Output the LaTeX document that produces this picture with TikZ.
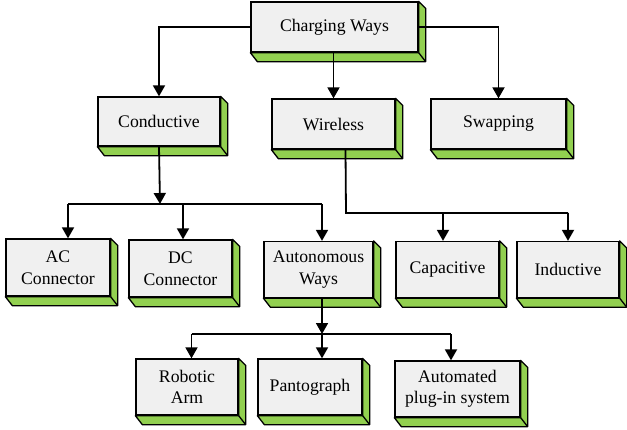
\documentclass[tikz,border=0pt]{standalone}
\usepackage{fontspec}
\setmainfont{Liberation Serif}
\newfontfamily\tnr{Liberation Serif}
\usetikzlibrary{arrows.meta,calc}
\definecolor{face}{HTML}{F0F0F0}
\definecolor{sidegreen}{HTML}{92D050}
\begin{document}
\begin{tikzpicture}[x=1pt,y=-1pt,
  box/.style={draw=black, line width=1.3pt, fill=face, align=center, inner sep=0pt,
              font=\tnr\fontsize{17.7}{21.5}\selectfont},
  sidef/.style={draw=black, line width=1.3pt, fill=sidegreen, line join=round},
  arr/.style={draw=black, line width=1.8pt, -{Triangle[length=11pt,width=12pt]}},
  ln/.style={draw=black, line width=1.8pt}]
\useasboundingbox (0,0) rectangle (627,429);

% boxes
\node[box, minimum width=167, minimum height=50] (cw)   at (334.5,27)  {Charging Ways};
\node[box, minimum width=122, minimum height=49] (cond) at (159,121.5) {Conductive};
\node[box, minimum width=123, minimum height=50] (wire) at (333.5,124) {Wireless};
\node[box, minimum width=135, minimum height=50] (swap) at (498.5,124) {Swapping};
\node[box, minimum width=104, minimum height=57] (ac)   at (58,267.5)  {AC\\Connector};
\node[box, minimum width=103, minimum height=57] (dc)   at (180.5,268.5) {DC\\Connector};
\node[box, minimum width=109, minimum height=56] (auto) at (318.5,269.5) {Autonomous\\Ways};
\node[box, minimum width=103, minimum height=56] (cap)  at (447.5,269.5) {Capacitive};
\node[box, minimum width=102, minimum height=56] (ind)  at (568,269.5) {Inductive};
\node[box, minimum width=102, minimum height=56] (rob)  at (187,387)   {Robotic\\Arm};
\node[box, minimum width=104, minimum height=56] (pan)  at (310,387)   {Pantograph};
\node[box, minimum width=125, minimum height=56] (autp) at (457.5,389) {Automated\\plug-in system};

% 3D sides
\foreach \n in {cw,cond,wire,swap,ac,dc,auto,cap,ind,rob,pan,autp}{
  \draw[sidef] (\n.north east) -- ++(7,7) -- ($(\n.south east)+(7,9)$)
     -- ($(\n.south west)+(7,9)$) -- (\n.south west) -- (\n.south east) -- cycle;
  \draw[sidef] (\n.south east) -- ++(7,9);
}

% connectors from Charging Ways
\draw[arr] (cw.west) -| (cond.north);
\draw[arr] (cw.east) -| (swap.north);
\draw[arr] (cw.south -| wire.north) -- (wire.north);

% Conductive branch
\coordinate (b1) at (160,204);
\coordinate (b1l) at (68,204);
\coordinate (b1m) at (183,204);
\coordinate (b1r) at (322,204);
\draw[arr] (cond.south) -- (b1);
\draw[ln] (b1l) -- (b1r);
\draw[arr] (b1l) -- (b1l |- ac.north);
\draw[arr] (b1m) -- (b1m |- dc.north);
\draw[arr] (b1r) -- (b1r |- auto.north);

% Wireless branch
\coordinate (b2) at (346,213);
\coordinate (b2c) at (443,213);
\coordinate (b2r) at (568,213);
\draw[ln] ([xshift=12]wire.south) -- (b2) -- (b2r);
\draw[arr] (b2c) -- (b2c |- cap.north);
\draw[arr] (b2r) -- (b2r |- ind.north);

% Autonomous branch
\coordinate (b3) at (322,334);
\coordinate (b3l) at (191.5,334);
\coordinate (b3r) at (451,334);
\draw[arr] ([xshift=3.5]auto.south) -- (b3);
\draw[ln] (b3l) -- (b3r);
\draw[arr] (b3l) -- (b3l |- rob.north);
\draw[arr] (b3) -- (b3 |- pan.north);
\draw[arr] (b3r) -- (b3r |- autp.north);
\end{tikzpicture}
\end{document}
